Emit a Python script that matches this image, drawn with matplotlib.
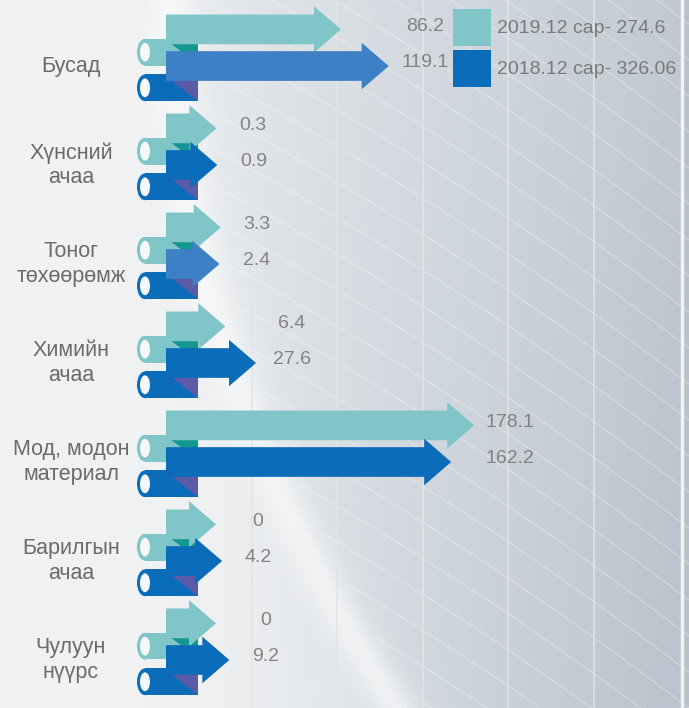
import matplotlib
matplotlib.use("Agg")
import matplotlib.pyplot as plt
import numpy as np
from matplotlib.patches import Rectangle, Ellipse, Polygon, Patch
from matplotlib.ticker import FixedLocator

plt.rcParams['font.family'] = ['Liberation Sans', 'DejaVu Sans']

# data
categories = ["Бусад", "Хүнсний\nачаа", "Тоног\nтөхөөрөмж", "Химийн\nачаа",
              "Мод, модон\nматериал", "Барилгын\nачаа", "Чулуун\nнүүрс"]
v2019 = [86.2, 0.3, 3.3, 6.4, 178.1, 0, 0]
v2018 = [119.1, 0.9, 2.4, 27.6, 162.2, 4.2, 9.2]
legend_labels = ["2019.12 сар- 274.6", "2018.12 сар- 326.06"]

# colours
teal = '#80c6c8'
teal_dark = '#149790'
blue = '#0b6cba'
blue_light = '#3d80c5'
purple = '#5b5aa6'
light_rows = [0, 2]   # rows drawn with the lighter blue arrow

W, H = 689, 708
fig = plt.figure(figsize=(W / 100, H / 100), dpi=100)

# ---- background (gradient + white swoosh lines)
bg = fig.add_axes([0, 0, 1, 1])
bg.set_xlim(0, W)
bg.set_ylim(H, 0)
bg.axis('off')
yy, xx = np.mgrid[0:H, 0:W]
xc = 185 + 0.00045 * yy ** 2
d = xx - xc
t = 0.22 / (1 + np.exp(-d / 25)) + 0.62 * np.clip((xx - 200) / 480, 0, 1) + 0.12 * (yy / H) * (xx / W)
t = np.clip(t, 0, 1)
lo = np.array([0.945, 0.95, 0.955])
hi = np.array([0.72, 0.76, 0.80])
img = lo + (hi - lo) * t[..., None]
glow = np.exp(-((d + 15) / 22) ** 2)
img = img + (1 - img) * glow[..., None] * 0.5
bg.imshow(img, extent=(0, W, H, 0), aspect='auto', interpolation='bilinear')

xs = np.linspace(0, W, 300)
for off in np.arange(-600, 700, 36):
    ys = off + 0.42 * xs + 0.00025 * xs ** 2
    ys = np.where(xs < 185 + 0.00045 * ys ** 2 + 8, np.nan, ys)
    bg.plot(xs, ys, color='white', lw=0.7, alpha=0.35)
ys = np.linspace(0, H, 300)
for k in range(10):
    bg.plot(185 + 0.00045 * ys ** 2 - 4 - 5 * k, ys, color='white', lw=0.6, alpha=0.4 - 0.03 * k)
bg.add_patch(Rectangle((682, 0), 7, H, color='#bac1ca'))
bg.axvline(682, color='#f2f3f5', lw=2.5)

# ---- main chart
px = 1.45   # pixels per unit
ax = fig.add_axes([0, 0, 1, 1])
ax.set_facecolor('none')
ax.set_xlim(-166 / px, (W - 166) / px)
ax.set_ylim(6.485, -0.667)
for s in ax.spines.values():
    s.set_visible(False)
ax.tick_params(length=0, labelbottom=False, labelleft=False)
ax.xaxis.set_major_locator(FixedLocator(np.arange(59, 300, 59)))
ax.set_yticks([])
ax.grid(axis='x', color='#e3e4e6', lw=1.1)
ax.set_axisbelow(True)

stub = 50 / px
tube_l, tube_r = -21 / px, 32 / px
for i, (a, b) in enumerate(zip(v2019, v2018)):
    # tubes
    for yc, col in [(i - 0.14, teal), (i + 0.22, blue)]:
        ax.add_patch(Rectangle((tube_l, yc - 0.135), tube_r - tube_l, 0.27, color=col, lw=0, zorder=2))
        ax.add_patch(Ellipse((tube_l, yc), 16 / px, 0.27, color=col, lw=0, zorder=2))
        ax.add_patch(Ellipse((tube_l, yc), 10 / px, 0.19, color='#f5f7f8', lw=0, zorder=2))
    ax.add_patch(Polygon([(0, i - 0.26), (tube_r, i - 0.26), (tube_r, i - 0.02)], color=teal_dark, lw=0, zorder=3))
    ax.add_patch(Polygon([(0, i + 0.1), (tube_r, i + 0.1), (tube_r, i + 0.355)], color=purple, lw=0, zorder=3))
    # arrows
    ax.arrow(0, i - 0.37, stub + a, 0, width=0.30, head_width=0.47, head_length=27 / px,
             length_includes_head=True, color=teal, lw=0, zorder=4)
    bc = blue_light if i in light_rows else blue
    ax.arrow(0, i, stub + b, 0, width=0.30, head_width=0.47, head_length=27 / px,
             length_includes_head=True, color=bc, lw=0, zorder=5)
    # value labels
    lx = stub + max(a, b) + 36 / px
    ax.text(lx, i - 0.4, f"{a:g}", ha='center', va='center', fontsize=14, color='#838383', zorder=6)
    ax.text(lx, i - 0.04, f"{b:g}", ha='center', va='center', fontsize=14, color='#838383', zorder=6)
    # category label
    ax.text(-95 / px, i, categories[i], ha='center', va='center', multialignment='center',
            fontsize=15.5, color='#6b6b6b', linespacing=1.2, zorder=6)

handles = [Patch(facecolor=teal, edgecolor='none'), Patch(facecolor=blue, edgecolor='none')]
ax.legend(handles, legend_labels, loc='upper left', bbox_to_anchor=(453 / W, 1 - 9 / H),
          frameon=False, fontsize=14, handlelength=1.95, handleheight=2.56, handletextpad=0.3,
          labelspacing=0.2, borderpad=0, borderaxespad=0, labelcolor='#7a7a7a')

fig.savefig("out.png", dpi=100)
